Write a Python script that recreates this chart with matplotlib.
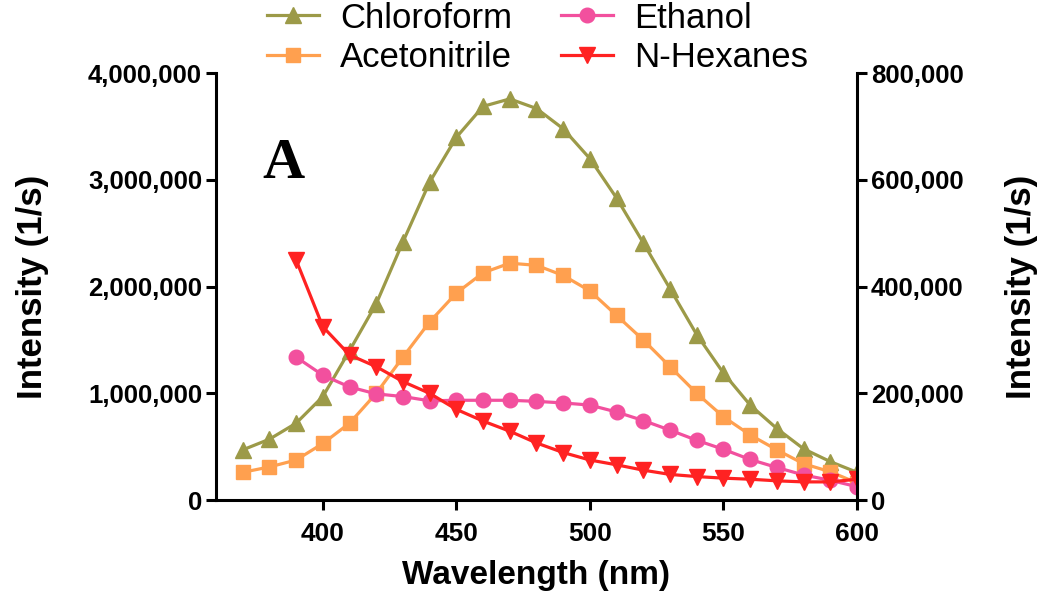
import matplotlib
matplotlib.use('Agg')
import matplotlib.pyplot as plt
from matplotlib.ticker import FuncFormatter
import numpy as np

plt.rcParams['font.family'] = ['Liberation Sans', 'DejaVu Sans']

# wavelengths (nm)
wl_full = [370, 380, 390, 400, 410, 420, 430, 440, 450, 460, 470, 480,
           490, 500, 510, 520, 530, 540, 550, 560, 570, 580, 590, 600]
wl_part = wl_full[2:]

# left axis series (1/s)
chloroform = [470000, 570000, 720000, 970000, 1400000, 1840000, 2420000, 2980000,
              3400000, 3690000, 3760000, 3670000, 3480000, 3200000, 2830000, 2410000,
              1980000, 1550000, 1190000, 890000, 670000, 480000, 360000, 260000]
acetonitrile = [260000, 310000, 375000, 530000, 720000, 1000000, 1340000, 1670000,
                1940000, 2130000, 2220000, 2200000, 2105000, 1960000, 1730000, 1500000,
                1250000, 1000000, 780000, 610000, 470000, 340000, 265000, 160000]

# right axis series (1/s)
ethanol = [268000, 234000, 212000, 199000, 194000, 186000, 187000, 187000, 187000,
           185000, 182000, 178000, 165000, 149000, 131000, 112000, 95000, 76000,
           61000, 47000, 37000, 25000]
hexanes = [450000, 325000, 272000, 250000, 222000, 200000, 170000, 148000, 129000,
           107000, 89000, 75000, 66000, 56000, 48000, 44000, 41000, 39000, 36000,
           34000, 34000, 39000]

c_chl = '#9c9a48'
c_ace = '#ffa04f'
c_eth = '#f2509e'
c_hex = '#ff2222'

fig = plt.figure(figsize=(10.5, 5.94), dpi=100)
ax = fig.add_axes([0.2057, 0.1582, 0.6105, 0.7184])
ax2 = ax.twinx()

lw = 2.3
l1, = ax.plot(wl_full, chloroform, color=c_chl, lw=lw, marker='^', ms=11, mec=c_chl, label='Chloroform')
l2, = ax.plot(wl_full, acetonitrile, color=c_ace, lw=lw, marker='s', ms=10, mec=c_ace, label='Acetonitrile')
l3, = ax2.plot(wl_part, ethanol, color=c_eth, lw=lw, marker='o', ms=10.5, mec=c_eth, label='Ethanol')
l4, = ax2.plot(wl_part, hexanes, color=c_hex, lw=lw, marker='v', ms=11, mec=c_hex, label='N-Hexanes')

ax.set_xlim(360, 600)
ax.set_ylim(0, 4000000)
ax2.set_ylim(0, 800000)
ax.set_xticks([400, 450, 500, 550, 600])
ax.set_yticks([0, 1000000, 2000000, 3000000, 4000000])
ax2.set_yticks([0, 200000, 400000, 600000, 800000])

fmt = FuncFormatter(lambda v, p: f'{int(v):,}')
ax.yaxis.set_major_formatter(fmt)
ax2.yaxis.set_major_formatter(fmt)

for a in (ax, ax2):
    a.spines['top'].set_visible(False)
    for s in ('left', 'right', 'bottom'):
        a.spines[s].set_linewidth(2.2)
    a.tick_params(width=2.2, length=7, labelsize=18.5, pad=3)
    for lab in a.get_xticklabels() + a.get_yticklabels():
        lab.set_fontweight('bold')
ax.tick_params(axis='x', pad=9, labelsize=19)
ax2.spines['left'].set_visible(False)
ax.spines['right'].set_visible(False)
ax2.spines['bottom'].set_visible(False)

ax.set_xlabel('Wavelength (nm)', fontsize=24, fontweight='bold', labelpad=10)
ax.set_ylabel('Intensity (1/s)', fontsize=25, fontweight='bold', labelpad=28)
ax2.set_ylabel('Intensity (1/s)', fontsize=25, fontweight='bold', labelpad=30)

ax.text(377.5, 3020000, 'A', fontsize=42, fontweight='bold', family='Liberation Serif')

fig.legend(handles=[l1, l2, l3, l4], ncol=2, frameon=False, fontsize=25,
           loc='upper center', bbox_to_anchor=(0.512, 1.05), columnspacing=1.4,
           handlelength=1.5, handletextpad=0.6, labelspacing=0.2)

fig.savefig('out.png', dpi=100)
